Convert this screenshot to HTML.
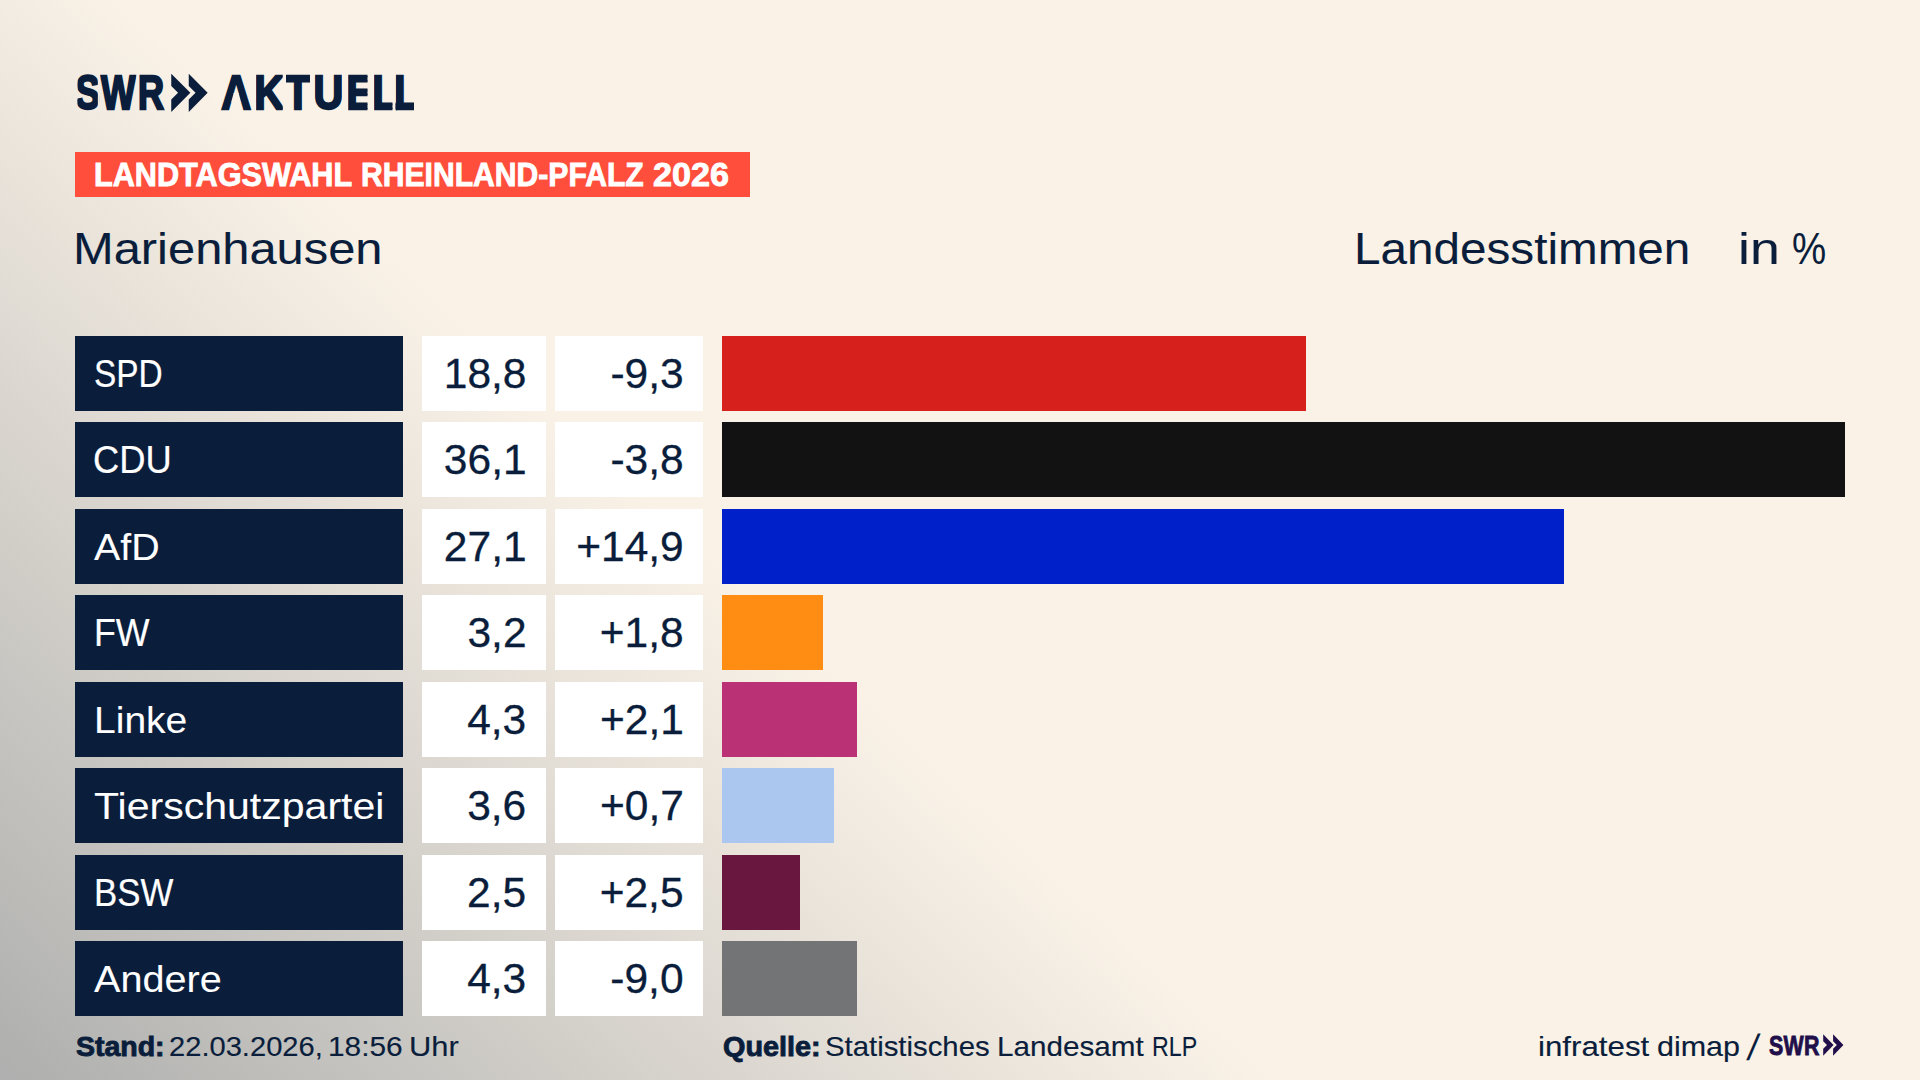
<!DOCTYPE html>
<html lang="de">
<head>
<meta charset="utf-8">
<title>SWR Aktuell – Landtagswahl Rheinland-Pfalz 2026 – Marienhausen – Landesstimmen</title>
<style>
*{margin:0;padding:0;box-sizing:border-box}
h1,h2,p,b,span{font:inherit;font-weight:400}
html,body{width:1920px;height:1080px;overflow:hidden;background:#faf2e7}
body{font-family:"Liberation Sans",sans-serif;color:#0a1e3c;position:relative;
  background:linear-gradient(223deg, #faf2e7 0%, #faf2e7 58.65%, #aeafae 100%);}
.t{position:absolute;white-space:nowrap;line-height:1;display:block;transform-origin:0 0}
.b{position:absolute}
.kicker-bg{left:75px;top:152px;width:675px;height:45px;background:#ff4f3c}
.lab{background:#0a1e3c;left:75px;width:328px;height:75px}
.val{background:#fff;left:422px;width:124px;height:75px}
.chg{background:#fff;left:555px;width:148px;height:75px}
.bar{left:722px;height:75px}
svg{position:absolute;left:0;top:0;overflow:visible}
.logo{font-family:"Liberation Sans",sans-serif;font-weight:700;fill:#0a1e3c;stroke:#0a1e3c}
</style>
</head>
<body>
<header>
<svg width="1920" height="1080" viewBox="0 0 1920 1080" role="img">
<defs><clipPath id="clip-swr"><rect x="77.50" y="72.5" width="20.25" height="40.0"/><rect x="99.75" y="72.5" width="36.75" height="40.0"/><rect x="139.25" y="72.5" width="25.50" height="40.0"/></clipPath><clipPath id="clip-aktuell"><rect x="220.25" y="72.5" width="31.65" height="40.0"/><rect x="256.00" y="72.5" width="26.75" height="40.0"/><rect x="286.00" y="72.5" width="24.00" height="40.0"/><rect x="314.40" y="72.5" width="27.85" height="40.0"/><rect x="348.10" y="72.5" width="19.40" height="40.0"/><rect x="374.00" y="72.5" width="18.50" height="40.0"/><rect x="395.60" y="72.5" width="18.40" height="40.0"/></clipPath></defs>
<g clip-path="url(#clip-swr)"><text class="logo" transform="scale(0.76,1)" x="99.5 132.8 181.2" y="109" font-size="48" stroke-width="2.3">SWR</text></g>
<polygon fill="#0a1e3c" points="171.25,73.75 190.35,92.83 171.25,111.90 171.25,99.62 178.05,92.83 171.25,86.03"/>
<polygon fill="#0a1e3c" points="188.75,73.75 207.65,92.83 188.75,111.90 188.75,99.62 195.55,92.83 188.75,86.03"/>
<g clip-path="url(#clip-aktuell)"><text class="logo" transform="scale(0.86,1)" x="257.2 295.6 331.8 364.5 402.7 432.8 458.0" y="109" font-size="48" stroke-width="2.3">AKTUELL</text></g>
<polygon fill="#faf2e7" points="233.67,93.00 238.64,93.00 241.07,102.00 231.23,102.00"/>
</svg>
<div class="b kicker-bg"></div>
<h1 class="kicker"><span class="t" style="left:93.90px;top:158px;font-size:33.5px;transform:scaleX(0.9146);color:#fff;font-weight:700;-webkit-text-stroke:0.9px #fff;">LANDTAGSWAHL</span> <span class="t" style="left:361.21px;top:158px;font-size:33.5px;transform:scaleX(0.8989);color:#fff;font-weight:700;-webkit-text-stroke:0.9px #fff;">RHEINLAND-PFALZ</span> <span class="t" style="left:653.32px;top:158px;font-size:33.5px;transform:scaleX(1.0183);color:#fff;font-weight:700;-webkit-text-stroke:0.9px #fff;">2026</span></h1>
<h2 class="place"><span class="t" style="left:73.29px;top:227px;font-size:44.5px;transform:scaleX(1.0976);-webkit-text-stroke:0.1px #0a1e3c;">Marienhausen</span></h2>
<p class="unit"><span class="t" style="left:1353.87px;top:227px;font-size:44.5px;transform:scaleX(1.0707);-webkit-text-stroke:0.1px #0a1e3c;">Landesstimmen</span> <span class="t" style="left:1738.17px;top:227px;font-size:44.5px;transform:scaleX(1.2059);-webkit-text-stroke:0.1px #0a1e3c;">in</span> <span class="t" style="left:1791.54px;top:227px;font-size:44.5px;transform:scaleX(0.8635);-webkit-text-stroke:0.1px #0a1e3c;">%</span></p>
</header>
<main>
<section class="row"><div class="b lab" style="top:336px"></div><div class="b val" style="top:336px"></div><div class="b chg" style="top:336px"></div><div class="b bar" style="top:336px;width:584px;background:#d6201c"></div>
<span class="t party" style="left:94.17px;top:355px;font-size:38.5px;transform:scaleX(0.8683);color:#fff;-webkit-text-stroke:0.2px #fff;">SPD</span> <span class="t value" style="left:443.79px;top:353px;font-size:42.5px;-webkit-text-stroke:0.3px #0a1e3c;">18,8</span> <span class="t change" style="left:610.45px;top:353px;font-size:42.5px;-webkit-text-stroke:0.3px #0a1e3c;">-9,3</span>
</section>
<section class="row"><div class="b lab" style="top:422px"></div><div class="b val" style="top:422px"></div><div class="b chg" style="top:422px"></div><div class="b bar" style="top:422px;width:1123px;background:#121212"></div>
<span class="t party" style="left:93.30px;top:441px;font-size:38.5px;transform:scaleX(0.9447);color:#fff;-webkit-text-stroke:0.2px #fff;">CDU</span> <span class="t value" style="left:443.87px;top:439px;font-size:42.5px;-webkit-text-stroke:0.3px #0a1e3c;">36,1</span> <span class="t change" style="left:610.43px;top:439px;font-size:42.5px;-webkit-text-stroke:0.3px #0a1e3c;">-3,8</span>
</section>
<section class="row"><div class="b lab" style="top:509px"></div><div class="b val" style="top:509px"></div><div class="b chg" style="top:509px"></div><div class="b bar" style="top:509px;width:842px;background:#0021c9"></div>
<span class="t party" style="left:94.23px;top:529px;font-size:37.5px;transform:scaleX(1.0501);color:#fff;-webkit-text-stroke:0.05px #fff;">AfD</span> <span class="t value" style="left:443.87px;top:526px;font-size:42.5px;-webkit-text-stroke:0.3px #0a1e3c;">27,1</span> <span class="t change" style="left:576.19px;top:526px;font-size:42.5px;-webkit-text-stroke:0.3px #0a1e3c;">+14,9</span>
</section>
<section class="row"><div class="b lab" style="top:595px"></div><div class="b val" style="top:595px"></div><div class="b chg" style="top:595px"></div><div class="b bar" style="top:595px;width:101px;background:#ff8d14"></div>
<span class="t party" style="left:93.91px;top:614px;font-size:38.5px;transform:scaleX(0.929);color:#fff;-webkit-text-stroke:0.2px #fff;">FW</span> <span class="t value" style="left:467.45px;top:612px;font-size:42.5px;-webkit-text-stroke:0.3px #0a1e3c;">3,2</span> <span class="t change" style="left:599.75px;top:612px;font-size:42.5px;-webkit-text-stroke:0.3px #0a1e3c;">+1,8</span>
</section>
<section class="row"><div class="b lab" style="top:682px"></div><div class="b val" style="top:682px"></div><div class="b chg" style="top:682px"></div><div class="b bar" style="top:682px;width:135px;background:#bb3175"></div>
<span class="t party" style="left:93.55px;top:702px;font-size:37.5px;transform:scaleX(1.0408);color:#fff;-webkit-text-stroke:0.05px #fff;">Linke</span> <span class="t value" style="left:467.15px;top:699px;font-size:42.5px;-webkit-text-stroke:0.3px #0a1e3c;">4,3</span> <span class="t change" style="left:600.01px;top:699px;font-size:42.5px;-webkit-text-stroke:0.3px #0a1e3c;">+2,1</span>
</section>
<section class="row"><div class="b lab" style="top:768px"></div><div class="b val" style="top:768px"></div><div class="b chg" style="top:768px"></div><div class="b bar" style="top:768px;width:112px;background:#abc7f0"></div>
<span class="t party" style="left:94.14px;top:788px;font-size:37.5px;transform:scaleX(1.0945);color:#fff;-webkit-text-stroke:0.05px #fff;">Tierschutzpartei</span> <span class="t value" style="left:467.15px;top:785px;font-size:42.5px;-webkit-text-stroke:0.3px #0a1e3c;">3,6</span> <span class="t change" style="left:600.05px;top:785px;font-size:42.5px;-webkit-text-stroke:0.3px #0a1e3c;">+0,7</span>
</section>
<section class="row"><div class="b lab" style="top:855px"></div><div class="b val" style="top:855px"></div><div class="b chg" style="top:855px"></div><div class="b bar" style="top:855px;width:78px;background:#6a173f"></div>
<span class="t party" style="left:93.89px;top:874px;font-size:38.5px;transform:scaleX(0.9042);color:#fff;-webkit-text-stroke:0.2px #fff;">BSW</span> <span class="t value" style="left:467.09px;top:872px;font-size:42.5px;-webkit-text-stroke:0.3px #0a1e3c;">2,5</span> <span class="t change" style="left:599.67px;top:872px;font-size:42.5px;-webkit-text-stroke:0.3px #0a1e3c;">+2,5</span>
</section>
<section class="row"><div class="b lab" style="top:941px"></div><div class="b val" style="top:941px"></div><div class="b chg" style="top:941px"></div><div class="b bar" style="top:941px;width:135px;background:#737475"></div>
<span class="t party" style="left:94.07px;top:961px;font-size:37.5px;transform:scaleX(1.0562);color:#fff;-webkit-text-stroke:0.05px #fff;">Andere</span> <span class="t value" style="left:467.15px;top:958px;font-size:42.5px;-webkit-text-stroke:0.3px #0a1e3c;">4,3</span> <span class="t change" style="left:610.30px;top:958px;font-size:42.5px;-webkit-text-stroke:0.3px #0a1e3c;">-9,0</span>
</section>
</main>
<footer>
<p class="stand"><b class="t" style="left:75.72px;top:1033px;font-size:28px;transform:scaleX(1.0173);font-weight:700;-webkit-text-stroke:0.9px #0a1e3c;">Stand:</b> <span class="t" style="left:168.63px;top:1033px;font-size:28px;transform:scaleX(1.04);-webkit-text-stroke:0.15px #0a1e3c;">22.03.2026,</span> <span class="t" style="left:327.55px;top:1033px;font-size:28px;transform:scaleX(1.0664);-webkit-text-stroke:0.15px #0a1e3c;">18:56</span> <span class="t" style="left:408.60px;top:1033px;font-size:28px;transform:scaleX(1.1034);-webkit-text-stroke:0.15px #0a1e3c;">Uhr</span></p>
<p class="quelle"><b class="t" style="left:723.20px;top:1033px;font-size:28px;transform:scaleX(1.0278);font-weight:700;-webkit-text-stroke:0.9px #0a1e3c;">Quelle:</b> <span class="t" style="left:825.33px;top:1033px;font-size:28px;transform:scaleX(1.0476);-webkit-text-stroke:0.15px #0a1e3c;">Statistisches</span> <span class="t" style="left:996.87px;top:1033px;font-size:28px;transform:scaleX(1.0583);-webkit-text-stroke:0.15px #0a1e3c;">Landesamt</span> <span class="t" style="left:1152.32px;top:1033px;font-size:28px;transform:scaleX(0.8294);-webkit-text-stroke:0.15px #0a1e3c;">RLP</span></p>
<p class="credit"><span class="t" style="left:1538.30px;top:1033px;font-size:28px;transform:scaleX(1.1174);-webkit-text-stroke:0.15px #0a1e3c;">infratest</span> <span class="t" style="left:1656.62px;top:1033px;font-size:28px;transform:scaleX(1.0885);-webkit-text-stroke:0.15px #0a1e3c;">dimap</span> <span class="t" style="left:1750.86px;top:1030px;font-size:36.5px;transform:skewX(-9deg);">/</span> <span class="t" style="left:1769.12px;top:1032px;font-size:27.5px;transform:scaleX(0.7776);color:#200f4a;font-weight:700;-webkit-text-stroke:0.9px #200f4a;letter-spacing:0.3px;">SWR</span></p>
<svg width="1920" height="1080" viewBox="0 0 1920 1080" aria-hidden="true">
<polygon fill="#200f4a" points="1823.20,1034.20 1833.50,1045.00 1823.20,1055.80 1823.20,1048.84 1827.00,1045.00 1823.20,1041.16"/>
<polygon fill="#200f4a" points="1833.10,1034.20 1843.40,1045.00 1833.10,1055.80 1833.10,1048.84 1836.90,1045.00 1833.10,1041.16"/>
</svg>
</footer>
</body>
</html>
